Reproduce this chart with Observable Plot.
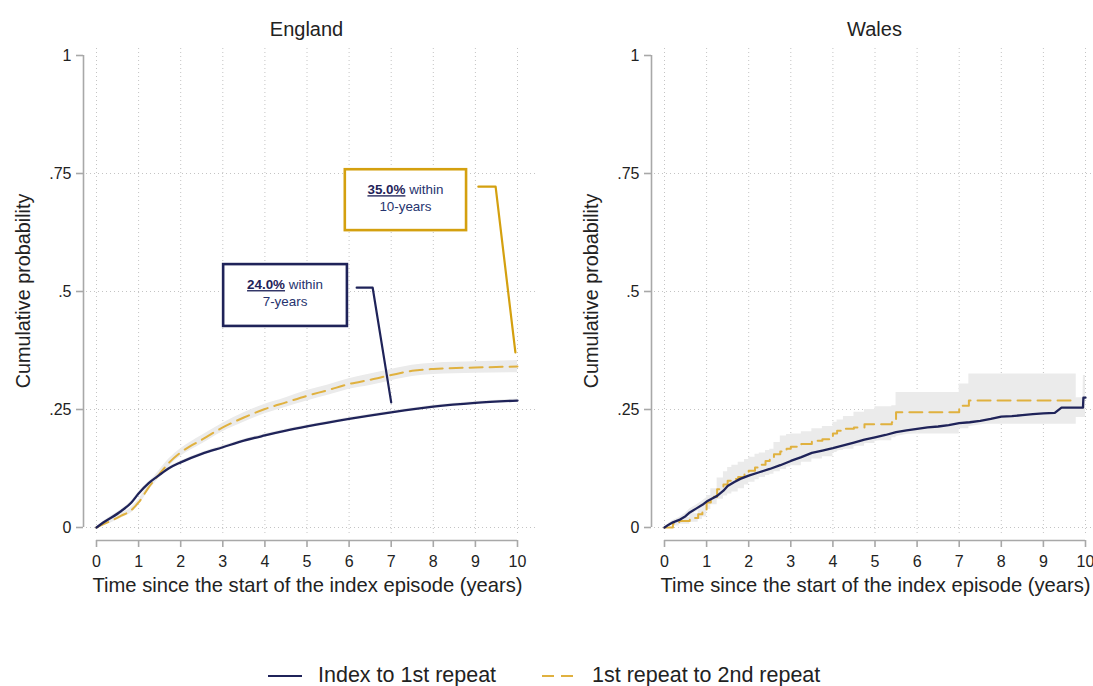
<!DOCTYPE html>
<html>
<head>
<meta charset="utf-8">
<script src="https://cdn.jsdelivr.net/npm/d3@7"></script>
<script src="https://cdn.jsdelivr.net/npm/@observablehq/plot@0.6"></script>
<style>
  html, body { margin: 0; padding: 0; background: #fff; overflow: hidden; }
  #wrap { position: relative; width: 1093px; height: 686px; overflow: hidden; font-family: "Liberation Sans", Arial, sans-serif; }
  .panel { position: absolute; top: 0; }
  #legend { position: absolute; left: 0; top: 658px; }
</style>
</head>
<body>
<div id="wrap"></div>
<script>
// ---------- data ----------
const panelTitles = ["England", "Wales"];
const seriesNames = ["Index to 1st repeat", "1st repeat to 2nd repeat"];
const xTicks = [0, 1, 2, 3, 4, 5, 6, 7, 8, 9, 10];
const yTicks = [0, 0.25, 0.5, 0.75, 1];
const yTickLabels = ["0", ".25", ".5", ".75", "1"];
const yGridTicks = [0, 0.25, 0.5, 0.75];
const xTitle = "Time since the start of the index episode (years)";
const yTitle = "Cumulative probability";

// England – index to 1st repeat
const engIdxT  = [0, .17, .59, .83, 1, 1.24, 1.49, 1.73, 2, 2.5, 3, 3.5, 4, 4.5, 5, 6, 7, 8, 9, 10];
const engIdxV  = [0, .011, .035, .053, .072, .094, .111, .126, .138, .156, .170, .184, .195, .205, .214, .230, .244, .256, .264, .269];
const engIdxLo = [0, .009, .032, .050, .069, .091, .108, .123, .135, .153, .167, .181, .192, .202, .211, .227, .241, .253, .261, .266];
const engIdxHi = [0, .013, .038, .056, .075, .097, .114, .129, .141, .159, .173, .187, .198, .208, .217, .233, .247, .259, .267, .272];

// England – 1st repeat to 2nd repeat
const engRepT  = [0, .17, .59, .83, 1, 1.24, 1.49, 1.73, 2, 2.5, 3, 3.5, 4, 4.5, 5, 5.5, 6, 6.5, 7, 7.5, 8, 9, 10];
const engRepV  = [0, .007, .025, .037, .053, .085, .113, .138, .159, .186, .212, .233, .251, .265, .279, .291, .304, .313, .323, .332, .336, .339, .341];
const engRepLo = [0, .004, .020, .031, .047, .078, .105, .130, .151, .177, .203, .223, .241, .255, .268, .280, .293, .301, .311, .320, .324, .327, .328];
const engRepHi = [0, .010, .030, .043, .059, .092, .121, .146, .167, .195, .221, .243, .261, .275, .290, .302, .315, .325, .335, .344, .348, .351, .354];

// Wales – index to 1st repeat
const walIdxT  = [0, .1, .2, .35, .5, .6, .75, .9, 1.0, 1.1, 1.25, 1.4, 1.5, 1.65, 1.8, 2.0, 2.25, 2.5, 2.75, 3.0, 3.25, 3.5, 3.75, 4.0, 4.25, 4.5, 4.75, 5.0, 5.25, 5.5, 5.75, 6.0, 6.25, 6.5, 6.75, 7.0, 7.25, 7.5, 7.75, 8.0, 8.25, 8.5, 8.75, 9.0, 9.27, 9.43, 9.74, 9.94, 9.95, 10];
const walIdxV  = [0, .006, .011, .016, .024, .032, .040, .048, .055, .060, .067, .078, .088, .096, .103, .110, .117, .124, .132, .141, .149, .158, .163, .168, .174, .180, .186, .191, .196, .202, .206, .209, .212, .214, .217, .221, .223, .226, .230, .235, .236, .238, .240, .242, .243, .254, .254, .254, .275, .275];
const walIdxLo = [0, .003, .007, .011, .018, .025, .033, .040, .047, .052, .058, .069, .079, .087, .094, .101, .108, .115, .123, .132, .140, .149, .154, .159, .165, .171, .177, .182, .187, .193, .197, .200, .203, .205, .208, .212, .214, .217, .221, .226, .227, .229, .231, .232, .233, .235, .233, .233, .233, .233];
const walIdxHi = [0, .009, .015, .021, .030, .039, .047, .056, .063, .068, .076, .087, .097, .105, .112, .119, .126, .133, .141, .150, .158, .167, .172, .177, .183, .189, .195, .200, .205, .211, .215, .218, .221, .223, .226, .230, .232, .235, .239, .244, .245, .247, .249, .252, .253, .273, .275, .275, .322, .322];

// Wales – 1st repeat to 2nd repeat (step function)
const walRepT  = [0, .2, .35, .6, .8, .9, 1.0, 1.1, 1.25, 1.4, 1.5, 1.6, 1.75, 1.9, 2.0, 2.15, 2.25, 2.4, 2.5, 2.6, 2.75, 2.9, 3.0, 3.25, 3.5, 3.75, 4.0, 4.1, 4.25, 4.5, 4.75, 5.0, 5.4, 5.5, 7.0, 7.23, 9.78];
const walRepV  = [0, .008, .014, .020, .028, .035, .053, .065, .081, .091, .099, .103, .107, .114, .120, .127, .133, .141, .149, .155, .161, .167, .171, .177, .184, .187, .199, .205, .209, .212, .219, .219, .223, .244, .258, .269, .269];
const walRepLo = [0, .003, .007, .011, .017, .022, .038, .048, .060, .067, .071, .075, .082, .090, .096, .101, .106, .110, .113, .118, .123, .128, .131, .138, .145, .150, .159, .163, .166, .172, .178, .184, .190, .198, .209, .219, .219];
const walRepHi = [0, .013, .021, .029, .039, .048, .068, .082, .105, .118, .127, .132, .138, .144, .149, .155, .158, .163, .166, .180, .194, .197, .198, .203, .209, .214, .223, .228, .235, .244, .250, .256, .258, .286, .304, .325, .325];

// England annotations
const annoPct   = ["24.0%", "35.0%"];
const annoRest  = [" within", " within"];
const annoLine2 = ["7-years", "10-years"];
const annoBoxX  = [[3.02, 5.96], [5.91, 8.79]];
const annoBoxY  = [[0.426, 0.557], [0.629, 0.758]];
const annoLead  = [
  [[6.18, 0.508], [6.56, 0.508], [7.0, 0.265]],
  [[9.07, 0.722], [9.48, 0.722], [9.95, 0.371]]
];

// ---------- styles ----------
const NAVY = "#1f2359";
const GOLD = "#e0b13f";
const GOLD_BOX = "#d4a00f";
const BAND = "#ebebeb";
const GRID = "#c4c4c4";
const AXIS = "#a8a8a8";
const TEXT = "#222";
const FONT = "Liberation Sans, Arial, Helvetica, sans-serif";

const W = 546, H = 600;

function rows(t, v, lo, hi) { return t.map((d, i) => ({t: d, v: v[i], lo: lo[i], hi: hi[i]})); }

const panels = [
  {
    title: panelTitles[0],
    idx: rows(engIdxT, engIdxV, engIdxLo, engIdxHi),
    rep: rows(engRepT, engRepV, engRepLo, engRepHi),
    idxCurve: "monotone-x", repCurve: "monotone-x",
    annotate: true, left: 0
  },
  {
    title: panelTitles[1],
    idx: rows(walIdxT, walIdxV, walIdxLo, walIdxHi),
    rep: rows(walRepT, walRepV, walRepLo, walRepHi),
    idxCurve: "linear", repCurve: "step-after",
    annotate: false, left: 568
  }
];

const wrap = document.getElementById("wrap");

panels.forEach(p => {
  const marks = [
    Plot.gridX(xTicks, {stroke: GRID, strokeOpacity: 1, strokeWidth: 1, strokeDasharray: "1,3", insetBottom: 5}),
    Plot.gridY(yGridTicks, {stroke: GRID, strokeOpacity: 1, strokeWidth: 1, strokeDasharray: "1,3", insetLeft: 3}),
    Plot.areaY(p.rep, {x: "t", y1: "lo", y2: "hi", fill: BAND, curve: p.repCurve}),
    Plot.areaY(p.idx, {x: "t", y1: "lo", y2: "hi", fill: BAND, curve: p.idxCurve}),
    Plot.line(p.rep, {x: "t", y: "v", stroke: GOLD, strokeWidth: 2, strokeDasharray: "13,7", curve: p.repCurve}),
    Plot.line(p.idx, {x: "t", y: "v", stroke: NAVY, strokeWidth: 2.3, curve: p.idxCurve}),
    Plot.ruleX([xTicks[0]], {y1: yTicks[0], y2: yTicks[yTicks.length - 1], dx: -13, stroke: AXIS, strokeWidth: 1.6}),
    Plot.ruleY([yTicks[0]], {x1: xTicks[0], x2: xTicks[xTicks.length - 1], dy: 13, stroke: AXIS, strokeWidth: 1.6}),
    Plot.axisY(yTicks, {label: null, tickSize: 7, tickPadding: 5, stroke: AXIS, strokeWidth: 1.6, fill: TEXT,
      tickFormat: d => yTickLabels[yTicks.indexOf(d)], fontSize: 16}),
    Plot.axisX(xTicks, {label: null, tickSize: 7, tickPadding: 8, stroke: AXIS, strokeWidth: 1.6, fill: TEXT,
      tickFormat: d => String(d), fontSize: 16})
  ];
  if (p.annotate) {
    const boxes = annoPct.map((d, i) => ({x1: annoBoxX[i][0], x2: annoBoxX[i][1], y1: annoBoxY[i][0], y2: annoBoxY[i][1], c: i === 0 ? NAVY : GOLD_BOX}));
    const leads = annoLead.flatMap((pts, i) => pts.map(q => ({x: q[0], y: q[1], k: i, c: i === 0 ? NAVY : GOLD_BOX})));
    marks.push(
      Plot.rect(boxes, {x1: "x1", x2: "x2", y1: "y1", y2: "y2", fill: "white", stroke: "c", strokeWidth: 2.6}),
      Plot.line(leads, {x: "x", y: "y", z: "k", stroke: "c", strokeWidth: 2.2})
    );
  }
  const chart = Plot.plot({
    width: W, height: H,
    marginLeft: 83, marginRight: W - 535, marginTop: 48, marginBottom: H - 540,
    x: {domain: [0, 10], range: [96, 517], axis: null},
    y: {domain: [0, 1], range: [527, 55], axis: null},
    color: {type: "identity"},
    style: {fontFamily: FONT, fontSize: "16px", color: TEXT, background: "transparent", overflow: "visible"},
    marks
  });
  const svg = d3.select(chart);
  const xs = chart.scale("x"), ys = chart.scale("y");
  const cx = (xs.apply(0) + xs.apply(10)) / 2;
  // panel title
  svg.append("text").attr("x", cx).attr("y", 36).attr("text-anchor", "middle")
    .attr("font-size", 20).attr("fill", TEXT).attr("font-family", FONT).text(p.title);
  // x title
  svg.append("text").attr("x", cx + 1).attr("y", 592).attr("text-anchor", "middle")
    .attr("font-size", 20.2).attr("fill", TEXT).attr("font-family", FONT).text(xTitle);
  // y title
  svg.append("text").attr("transform", `translate(30,${(ys.apply(0) + ys.apply(1)) / 2}) rotate(-90)`)
    .attr("text-anchor", "middle").attr("font-size", 19.8).attr("fill", TEXT).attr("font-family", FONT).text(yTitle);
  // annotation texts
  if (p.annotate) {
    annoPct.forEach((pct, i) => {
      const bx = (xs.apply(annoBoxX[i][0]) + xs.apply(annoBoxX[i][1])) / 2;
      const top = ys.apply(annoBoxY[i][1]);
      const t1 = svg.append("text").attr("x", bx).attr("y", top + 25).attr("text-anchor", "middle")
        .attr("font-size", 13.4).attr("font-family", FONT).attr("fill", "#26336e");
      t1.append("tspan").attr("font-weight", "bold").attr("fill", NAVY).style("text-decoration", "underline").text(pct);
      t1.append("tspan").text(annoRest[i]);
      svg.append("text").attr("x", bx).attr("y", top + 42).attr("text-anchor", "middle")
        .attr("font-size", 13.4).attr("font-family", FONT).attr("fill", "#26336e").text(annoLine2[i]);
    });
  }
  chart.classList.add("panel");
  chart.style.left = p.left + "px";
  wrap.appendChild(chart);
});

// legend
const leg = d3.select(wrap).append("svg").attr("id", "legend").attr("width", 1093).attr("height", 28);
leg.append("line").attr("x1", 268).attr("x2", 302).attr("y1", 18).attr("y2", 18).attr("stroke", NAVY).attr("stroke-width", 2.2);
leg.append("text").attr("x", 318).attr("y", 23.5).attr("font-size", 21.5).attr("font-family", FONT).attr("fill", TEXT).text(seriesNames[0]);
leg.append("line").attr("x1", 542).attr("x2", 574).attr("y1", 18).attr("y2", 18).attr("stroke", GOLD).attr("stroke-width", 2.2).attr("stroke-dasharray", "12,7");
leg.append("text").attr("x", 592).attr("y", 23.5).attr("font-size", 21.5).attr("font-family", FONT).attr("fill", TEXT).text(seriesNames[1]);
</script>
</body>
</html>
